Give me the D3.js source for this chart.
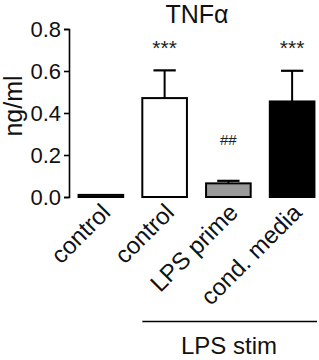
<!DOCTYPE html>
<html><head><meta charset="utf-8">
<script src="https://cdn.jsdelivr.net/npm/d3@7"></script>
<style>body{margin:0;background:#fff}svg{display:block}text{font-family:"Liberation Sans",Arial,sans-serif}</style>
</head><body><svg id="c" width="319" height="360"></svg>
<script>
const categories = ["control", "control", "LPS prime", "cond. media"];
const values = [0.01, 0.471, 0.065, 0.455];
const errors = [0.0, 0.132, 0.012, 0.146];
const fills = ["#555555", "#ffffff", "#9a9a9a", "#000000"];
const sigLabels = ["", "***", "##", "***"];
const yTicks = [0, 0.2, 0.4, 0.6, 0.8];
const groupLabel = "LPS stim";
const title = "TNFα";
const yLabel = "ng/ml";

const svg = d3.select("#c");
const y = d3.scaleLinear().domain([0, 0.8]).range([197, 29]);
const x = d3.scaleBand().domain(d3.range(categories.length)).range([69, 324]).paddingInner(0.3).paddingOuter(0.15);

const yAxis = d3.axisLeft(y).tickValues(yTicks).tickFormat(d3.format(".1f")).tickSize(5).tickPadding(3);
const ga = svg.append("g").attr("transform", "translate(69,0)").call(yAxis);
ga.selectAll("path,line").attr("stroke", "#000").attr("stroke-width", 1.6);
ga.selectAll("text").attr("font-size", 22).attr("fill", "#111").attr("dy", "0.36em");

const bw = x.bandwidth();
svg.selectAll(".err").data(values).enter().append("g").each(function(d, i) {
  if (errors[i] <= 0) return;
  const g = d3.select(this);
  const cx = x(i) + bw / 2;
  g.append("line").attr("x1", cx).attr("x2", cx).attr("y1", y(d)).attr("y2", y(d + errors[i])).attr("stroke", "#000").attr("stroke-width", 2);
  g.append("line").attr("x1", cx - bw / 4).attr("x2", cx + bw / 4).attr("y1", y(d + errors[i])).attr("y2", y(d + errors[i])).attr("stroke", "#000").attr("stroke-width", 2.2);
});

svg.selectAll(".bar").data(values).enter().append("rect")
  .attr("x", (d, i) => x(i)).attr("width", bw)
  .attr("y", d => y(d)).attr("height", d => y(0) - y(d))
  .attr("fill", (d, i) => fills[i]).attr("stroke", "#000").attr("stroke-width", 2);

svg.selectAll(".sig").data(sigLabels).enter().append("text")
  .attr("x", (d, i) => x(i) + bw / 2)
  .attr("y", (d, i) => i === 2 ? 145 : 55)
  .attr("text-anchor", "middle").attr("font-size", (d, i) => i === 2 ? 15 : 21).attr("fill", "#222")
  .text(d => d);

svg.selectAll(".xl").data(categories).enter().append("text")
  .attr("transform", (d, i) => `translate(${x(i) + bw / 2 + 11},${214}) rotate(-45)`)
  .attr("text-anchor", "end").attr("font-size", 24).attr("fill", "#111")
  .text(d => d);

svg.append("line").attr("x1", x(1)).attr("x2", 317).attr("y1", 321.5).attr("y2", 321.5).attr("stroke", "#000").attr("stroke-width", 1.6);
svg.append("text").attr("x", 229).attr("y", 354).attr("text-anchor", "middle").attr("font-size", 24).attr("fill", "#111").text(groupLabel);

svg.append("text").attr("x", 197).attr("y", 23).attr("text-anchor", "middle").attr("font-size", 25).attr("fill", "#111").text(title);
svg.append("text").attr("transform", "translate(22,106) rotate(-90)").attr("text-anchor", "middle").attr("font-size", 25).attr("fill", "#111").text(yLabel);
</script></body></html>
